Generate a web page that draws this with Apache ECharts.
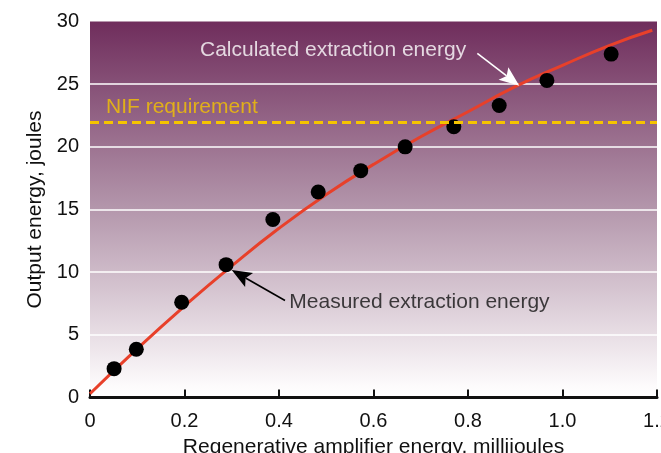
<!DOCTYPE html>
<html>
<head>
<meta charset="utf-8">
<script src="https://cdn.jsdelivr.net/npm/echarts@6/dist/echarts.min.js"></script>
<style>
  html, body { margin: 0; padding: 0; background: #fff; }
  #chart { width: 661px; height: 453px; }
</style>
</head>
<body>
<div id="chart"></div>
<script>
// measured points (regen amp energy mJ, output energy J)
const measuredX = [0.051, 0.098, 0.194, 0.288, 0.387, 0.483, 0.573, 0.667, 0.770, 0.866, 0.967, 1.103]
const measuredY = [2.3, 3.85, 7.6, 10.6, 14.2, 16.4, 18.1, 20.0, 21.6, 23.3, 25.3, 27.4]

// calculated extraction curve
const calcX = [0, 0.1, 0.2, 0.3, 0.4, 0.5, 0.6, 0.7, 0.8, 0.9, 1.0, 1.1, 1.19]
const calcY = [0.3, 3.9, 7.3, 10.5, 13.5, 16.2, 18.6, 20.8, 22.8, 24.8, 26.5, 28.1, 29.3]

const nifRequirement = 22

const xTickLabels = ['0', '0.2', '0.4', '0.6', '0.8', '1.0', '1.2']
const yTickLabels = ['0', '5', '10', '15', '20', '25', '30']

const FONT = 'Liberation Sans, Arial, sans-serif'

const chart = echarts.init(document.getElementById('chart'), null, { renderer: 'canvas' })

const zip = (xs, ys) => xs.map((x, i) => [x, ys[i]])

// arrow from (x1,y1) to head at (x2,y2), drawn in pixel space off the axes
function renderArrow(params, api) {
    const a = api.coord([api.value(0), api.value(1)])
    const b = api.coord([api.value(2), api.value(3)])
    const color = api.visual('color')
    const dx = b[0] - a[0], dy = b[1] - a[1]
    const len = Math.sqrt(dx * dx + dy * dy)
    const ux = dx / len, uy = dy / len
    const nx = -uy, ny = ux
    const L = 20, W = 8, notch = 16
    const back = [b[0] - ux * L, b[1] - uy * L]
    const mid = [b[0] - ux * notch, b[1] - uy * notch]
    return {
        type: 'group',
        children: [
            {
                type: 'line',
                shape: { x1: a[0], y1: a[1], x2: mid[0], y2: mid[1] },
                style: { stroke: color, lineWidth: 1.6 }
            },
            {
                type: 'polygon',
                shape: {
                    points: [
                        b,
                        [back[0] + nx * W, back[1] + ny * W],
                        mid,
                        [back[0] - nx * W, back[1] - ny * W]
                    ]
                },
                style: { fill: color }
            }
        ]
    }
}

const option = {
    animation: false,
    backgroundColor: '#fff',
    grid: {
        left: 90, right: 4, top: 21.5, bottom: 55.5,
        outerBoundsMode: 'none',
        containLabel: false,
        show: true,
        borderWidth: 0,
        backgroundColor: new echarts.graphic.LinearGradient(0, 0, 0, 1, [
            { offset: 0, color: '#6f2d5c' },
            { offset: 0.5, color: '#b497ac' },
            { offset: 0.97, color: '#fdfbfc' },
            { offset: 1, color: '#ffffff' }
        ])
    },
    xAxis: {
        type: 'value',
        min: 0, max: 1.2, interval: 0.2,
        name: 'Regenerative amplifier energy, millijoules',
        nameLocation: 'middle',
        nameGap: 36,
        nameTextStyle: { fontFamily: FONT, fontSize: 21, color: '#111' },
        axisLine: { show: true, onZero: false, lineStyle: { color: '#111', width: 3 } },
        axisTick: { show: true, inside: true, length: 8, lineStyle: { color: '#111', width: 2 } },
        axisLabel: {
            fontFamily: FONT, fontSize: 20, color: '#111', margin: 14,
            hideOverlap: false,
            formatter: v => xTickLabels[Math.round(v / 0.2)]
        },
        splitLine: { show: false }
    },
    yAxis: {
        type: 'value',
        min: 0, max: 30, interval: 5,
        name: 'Output energy, joules',
        nameLocation: 'middle',
        nameGap: 37,
        nameTextStyle: { fontFamily: FONT, fontSize: 21, color: '#111' },
        axisLine: { show: false },
        axisTick: { show: false },
        axisLabel: {
            fontFamily: FONT, fontSize: 20, color: '#111', margin: 11,
            formatter: v => yTickLabels[Math.round(v / 5)]
        },
        splitLine: {
            show: true,
            lineStyle: {
                width: 1.5,
                color: ['transparent', '#ffffff', '#ffffff', '#ffffff', '#ffffff', '#ffffff', 'transparent']
            }
        }
    },
    series: [
        {
            name: 'Calculated extraction energy',
            type: 'line',
            data: zip(calcX, calcY),
            smooth: true,
            showSymbol: false,
            lineStyle: { color: '#e8402a', width: 3 },
            z: 3,
            markLine: {
                silent: true,
                symbol: 'none',
                animation: false,
                lineStyle: { color: '#f5c400', width: 3, type: [9, 5] },
                label: { show: false },
                data: [{ yAxis: nifRequirement }]
            }
        },
        {
            name: 'Measured extraction energy',
            type: 'scatter',
            data: zip(measuredX, measuredY),
            symbol: 'circle',
            symbolSize: 15,
            itemStyle: { color: '#000', opacity: 1 },
            z: 4
        },
        {
            name: 'arrows',
            type: 'custom',
            silent: true,
            z: 5,
            renderItem: renderArrow,
            data: [
                { value: [0.8197, 27.46, 0.9086, 24.88], itemStyle: { color: '#ffffff' } },
                { value: [0.4127, 7.74, 0.2999, 10.17], itemStyle: { color: '#000000' } }
            ]
        },
        {
            name: 'notes',
            type: 'scatter',
            silent: true,
            symbolSize: 0,
            z: 5,
            label: {
                show: true,
                position: 'right',
                distance: 0,
                fontFamily: FONT,
                fontSize: 21,
                formatter: p => p.name
            },
            data: [
                { name: 'Calculated extraction energy', value: [0.2328, 27.67], label: { color: '#fff' } },
                { name: 'Measured extraction energy', value: [0.4218, 7.58], label: { color: '#111' } },
                { name: 'NIF requirement', value: [0.0339, 23.2], label: { color: '#f5c400' } }
            ]
        }
    ]
}

chart.setOption(option)
</script>
</body>
</html>
